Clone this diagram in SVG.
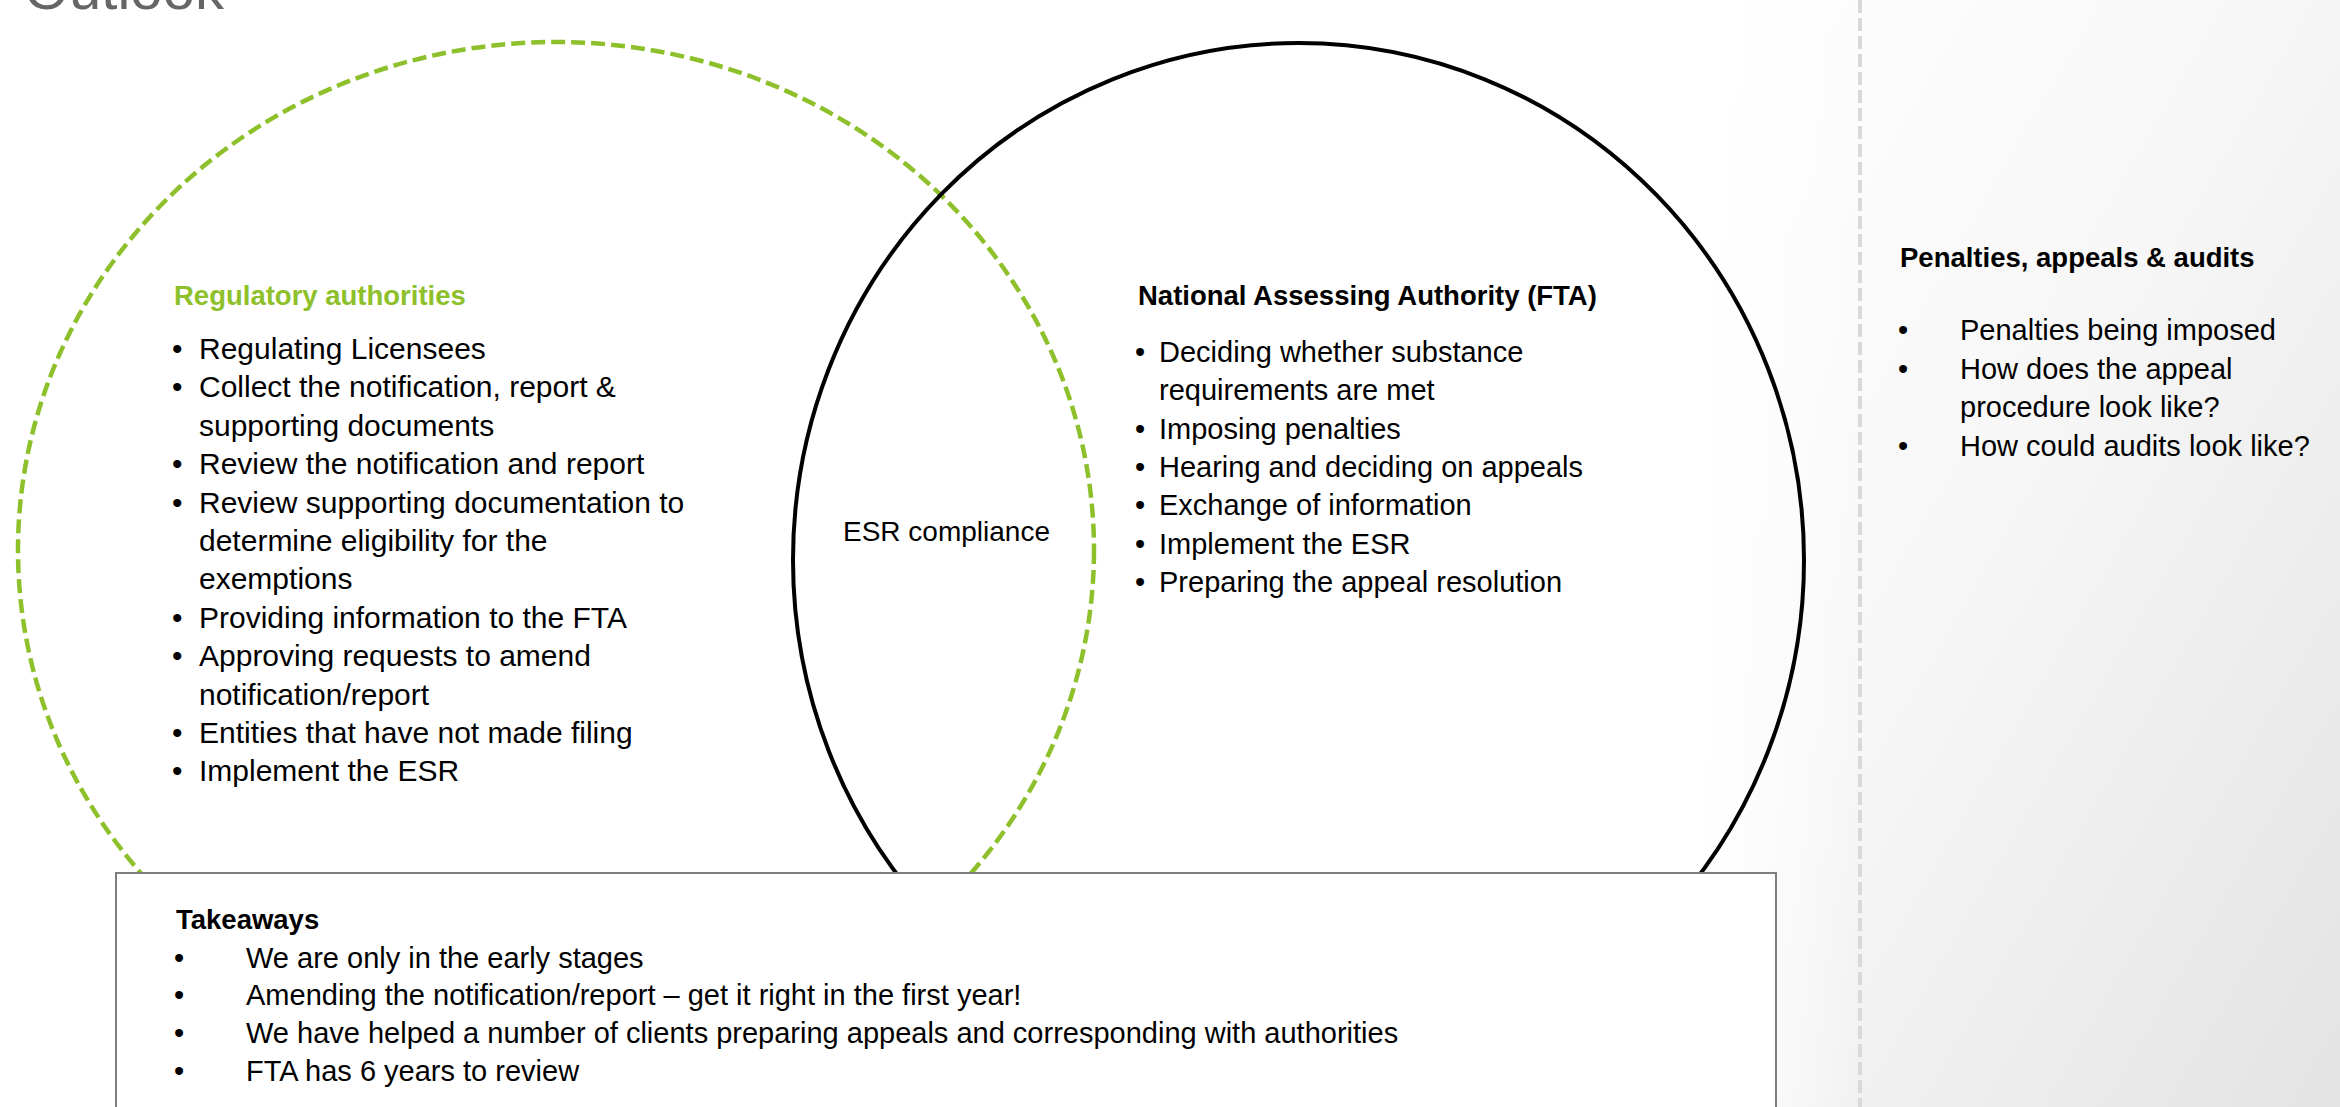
<svg xmlns="http://www.w3.org/2000/svg" width="2340" height="1107" viewBox="0 0 2340 1107">
  <defs>
    <linearGradient id="panelShade" x1="0" y1="0" x2="1" y2="1">
      <stop offset="0" stop-color="#ffffff"/>
      <stop offset="0.45" stop-color="#f7f7f7"/>
      <stop offset="1" stop-color="#e3e3e3"/>
    </linearGradient>
    <linearGradient id="panelFade" x1="0" y1="0" x2="1" y2="0">
      <stop offset="0" stop-color="#ffffff" stop-opacity="1"/>
      <stop offset="0.25" stop-color="#ffffff" stop-opacity="0"/>
    </linearGradient>
  </defs>
  <style>
    .txt { font-family: "Liberation Sans", Arial, sans-serif; font-size: 29px; fill: #000000; }
    .txt-l { font-family: "Liberation Sans", Arial, sans-serif; font-size: 30px; fill: #000000; }
    .head { font-family: "Liberation Sans", Arial, sans-serif; font-size: 27.5px; font-weight: bold; fill: #000000; }
    .head-green { fill: #8dc02a; }
    .ring-green { fill: none; stroke: #8dc02a; stroke-width: 4.5; stroke-dasharray: 14 6; }
    .ring-black { fill: none; stroke: #000000; stroke-width: 4; }
    .divider { stroke: #d9d9d9; stroke-width: 4; stroke-dasharray: 13 5; }
    .box { fill: #ffffff; stroke: #7f7f7f; stroke-width: 2; }
  </style>

  <!-- page background -->
  <rect x="0" y="0" width="2340" height="1107" fill="#ffffff"/>
  <rect x="1700" y="0" width="640" height="1107" fill="url(#panelShade)"/>
  <rect x="1700" y="0" width="640" height="1107" fill="url(#panelFade)"/>

  <!-- slide title, partly above the visible area -->
  <text x="24" y="9" style="font-family: 'Liberation Sans', Arial, sans-serif; font-size: 58px; fill: #666666;">Outlook</text>

  <!-- left circle: regulatory authorities -->
  <g id="node-regulatory">
    <ellipse class="ring-green" cx="556" cy="550" rx="538" ry="508"/>
    <text class="head head-green" x="174" y="305">Regulatory authorities</text>
    <g class="txt-l">
      <text x="172" y="359">•</text><text x="199" y="359">Regulating Licensees</text>
      <text x="172" y="397.4">•</text><text x="199" y="397.4">Collect the notification, report &amp;</text>
      <text x="199" y="435.8">supporting documents</text>
      <text x="172" y="474.2">•</text><text x="199" y="474.2">Review the notification and report</text>
      <text x="172" y="512.6">•</text><text x="199" y="512.6">Review supporting documentation to</text>
      <text x="199" y="551">determine eligibility for the</text>
      <text x="199" y="589.4">exemptions</text>
      <text x="172" y="627.8">•</text><text x="199" y="627.8">Providing information to the FTA</text>
      <text x="172" y="666.2">•</text><text x="199" y="666.2">Approving requests to amend</text>
      <text x="199" y="704.6">notification/report</text>
      <text x="172" y="743">•</text><text x="199" y="743">Entities that have not made filing</text>
      <text x="172" y="781.4">•</text><text x="199" y="781.4">Implement the ESR</text>
    </g>
  </g>

  <!-- right circle: national assessing authority -->
  <g id="node-fta">
    <ellipse class="ring-black" cx="1298.5" cy="560" rx="505.5" ry="517"/>
    <text class="head" x="1138" y="305">National Assessing Authority (FTA)</text>
    <g class="txt">
      <text x="1135" y="362">•</text><text x="1159" y="362">Deciding whether substance</text>
      <text x="1159" y="400.3">requirements are met</text>
      <text x="1135" y="438.6">•</text><text x="1159" y="438.6">Imposing penalties</text>
      <text x="1135" y="476.9">•</text><text x="1159" y="476.9">Hearing and deciding on appeals</text>
      <text x="1135" y="515.2">•</text><text x="1159" y="515.2">Exchange of information</text>
      <text x="1135" y="553.5">•</text><text x="1159" y="553.5">Implement the ESR</text>
      <text x="1135" y="591.8">•</text><text x="1159" y="591.8">Preparing the appeal resolution</text>
    </g>
  </g>

  <!-- overlap label -->
  <g id="node-overlap">
    <text class="txt" x="843" y="541" style="font-size: 28px;">ESR compliance</text>
  </g>

  <!-- takeaways box -->
  <g id="node-takeaways">
    <rect class="box" x="116" y="873" width="1660" height="260"/>
    <text class="head" x="176" y="929">Takeaways</text>
    <g class="txt">
      <text x="174" y="967.5">•</text><text x="246" y="967.5">We are only in the early stages</text>
      <text x="174" y="1005">•</text><text x="246" y="1005">Amending the notification/report – get it right in the first year!</text>
      <text x="174" y="1043">•</text><text x="246" y="1043">We have helped a number of clients preparing appeals and corresponding with authorities</text>
      <text x="174" y="1080.5">•</text><text x="246" y="1080.5">FTA has 6 years to review</text>
    </g>
  </g>

  <!-- side panel divider -->
  <line class="divider" x1="1860" y1="0" x2="1860" y2="1107"/>

  <!-- side panel: penalties, appeals and audits -->
  <g id="node-penalties">
    <text class="head" x="1900" y="267">Penalties, appeals &amp; audits</text>
    <g class="txt">
      <text x="1898" y="340">•</text><text x="1960" y="340">Penalties being imposed</text>
      <text x="1898" y="378.5">•</text><text x="1960" y="378.5">How does the appeal</text>
      <text x="1960" y="417">procedure look like?</text>
      <text x="1898" y="455.5">•</text><text x="1960" y="455.5">How could audits look like?</text>
    </g>
  </g>
</svg>
